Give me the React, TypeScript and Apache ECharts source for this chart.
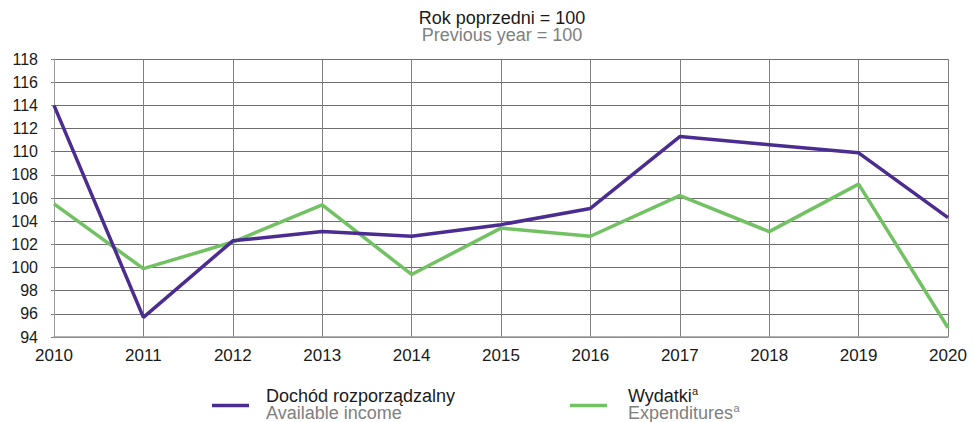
import React, { useEffect, useRef } from "react";
import * as echarts from "echarts";

const years = ["2010", "2011", "2012", "2013", "2014", "2015", "2016", "2017", "2018", "2019", "2020"];
const availableIncome = [114.0, 95.7, 102.3, 103.1, 102.7, 103.7, 105.1, 111.3, 110.6, 109.9, 104.3];
const expenditures = [105.5, 99.9, 102.2, 105.4, 99.4, 103.4, 102.7, 106.2, 103.1, 107.2, 94.8];

const titlePl = "Rok poprzedni = 100";
const titleEn = "Previous year = 100";
const incomePl = "Dochód rozporządzalny";
const incomeEn = "Available income";
const expPl = "Wydatki";
const expEn = "Expenditures";
const supMark = "a";

const PURPLE = "#4b2d91";
const GREEN = "#72c162";
const FONT = "'Liberation Sans', Arial, sans-serif";

export default function App() {
  const ref = useRef<HTMLDivElement>(null);

  useEffect(() => {
    if (!ref.current) return;
    const chart = echarts.init(ref.current, undefined, { renderer: "svg" });
    const txt = (
      text: string,
      x: number,
      y: number,
      size: number,
      fill: string,
      lh: number,
      align = "left"
    ) => ({
      type: "text",
      x,
      y,
      silent: true,
      style: { text, fontSize: size, lineHeight: lh, fontFamily: FONT, fill, align, verticalAlign: "middle" },
    });
    chart.setOption({
      animation: false,
      backgroundColor: "#ffffff",
      grid: { left: 54, right: 25, top: 59, bottom: 85, containLabel: false },
      xAxis: {
        type: "category",
        data: years,
        boundaryGap: false,
        axisLine: { show: true, lineStyle: { color: "#9a9a9a", width: 1.5 } },
        axisTick: { show: false },
        axisLabel: { color: "#1a1a1a", fontSize: 17, fontFamily: FONT, margin: 10, interval: 0 },
        splitLine: { show: true, lineStyle: { color: "#808080", width: 1 } },
      },
      yAxis: {
        type: "value",
        min: 94,
        max: 118,
        interval: 2,
        axisLine: { show: true, lineStyle: { color: "#9a9a9a", width: 1 } },
        axisTick: { show: true, length: 3, lineStyle: { color: "#808080" } },
        axisLabel: { color: "#1a1a1a", fontSize: 16, fontFamily: FONT, margin: 16 },
        splitLine: { show: true, lineStyle: { color: "#6e6e6e", width: 1 } },
      },
      series: [
        {
          name: incomePl,
          type: "line",
          data: availableIncome,
          symbol: "none",
          lineStyle: { color: PURPLE, width: 3.5 },
          itemStyle: { color: PURPLE },
          z: 3,
        },
        {
          name: expPl,
          type: "line",
          data: expenditures,
          symbol: "none",
          lineStyle: { color: GREEN, width: 3.5 },
          itemStyle: { color: GREEN },
          z: 2,
        },
      ],
      graphic: [
        txt(titlePl, 502, 18, 18, "#1a1a1a", 16, "center"),
        txt(titleEn, 502, 35, 18, "#808080", 16, "center"),
        {
          type: "line",
          silent: true,
          shape: { x1: 212, y1: 405.5, x2: 249, y2: 405.5 },
          style: { stroke: PURPLE, lineWidth: 3.5 },
        },
        txt(incomePl, 266, 396, 18, "#1a1a1a", 16),
        txt(incomeEn, 266, 413, 18, "#808080", 16),
        {
          type: "line",
          silent: true,
          shape: { x1: 570, y1: 405.5, x2: 607, y2: 405.5 },
          style: { stroke: GREEN, lineWidth: 3.5 },
        },
        txt(expPl, 628, 396, 18, "#1a1a1a", 16),
        txt(supMark, 692, 391, 11, "#1a1a1a", 10),
        txt(expEn, 628, 413, 18, "#808080", 16),
        txt(supMark, 733.5, 408, 11, "#808080", 10),
      ],
    });
    return () => chart.dispose();
  }, []);

  return (
    <div
      ref={ref}
      style={{ position: "fixed", left: 0, top: 0, width: 973, height: 422, background: "#fff" }}
    />
  );
}
